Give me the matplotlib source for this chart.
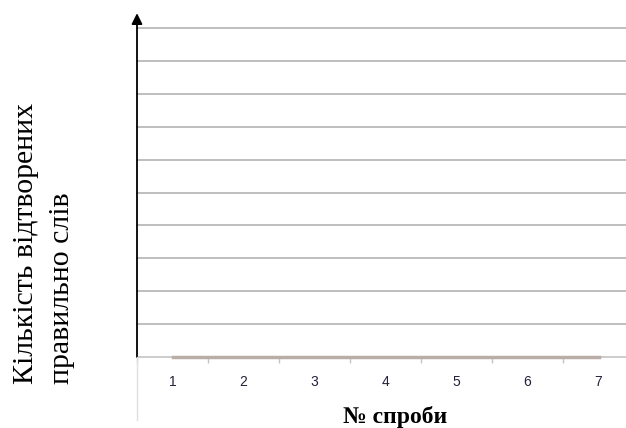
import numpy as np
import matplotlib.pyplot as plt

# data
trials = ['1', '2', '3', '4', '5', '6', '7']
words = [0, 0, 0, 0, 0, 0, 0]
y_max = 10

fig = plt.figure(figsize=(6.26, 4.28), dpi=100)
ax = fig.add_axes([137 / 626, 71 / 428, 497 / 626, 329 / 428])

x = np.arange(len(trials))
ax.set_xlim(-0.5, len(trials) - 0.5)
ax.set_ylim(0, y_max)

# horizontal grid lines
for v in range(1, y_max + 1):
    ax.axhline(v, color='#b3b3b3', lw=1.2, zorder=1, clip_on=False)

ax.plot(x, words, color='#b9aea6', lw=2.5, zorder=3, clip_on=False)

for s in ['top', 'right', 'left']:
    ax.spines[s].set_visible(False)
ax.spines['bottom'].set_color('#c4c4c4')
ax.spines['bottom'].set_linewidth(1.2)

# category boundary ticks
ax.set_xticks(np.arange(-0.5, len(trials), 1.0))
ax.set_xticklabels([])
ax.tick_params(axis='x', length=4, width=1, color='#c4c4c4', direction='out')
ax.set_yticks([])

for xi, lab in zip(x, trials):
    ax.annotate(lab, (xi, 0), xytext=(0, -25), textcoords='offset pixels',
                ha='center', va='center', fontsize=10, color='#22223a',
                family='Liberation Sans', annotation_clip=False)

# y axis with arrow
ax.annotate('', xy=(-0.5, 10.45), xytext=(-0.5, 0), xycoords='data',
            arrowprops=dict(arrowstyle='-|>', color='black', lw=1.3,
                            mutation_scale=16, shrinkA=0, shrinkB=0),
            annotation_clip=False)
fig.add_artist(plt.Line2D([137 / 626, 137 / 626], [8 / 428, 71 / 428],
                          color='#e0e0e0', lw=1))

fig.text(395 / 626, 1 - 417 / 428, '№ спроби', ha='center', va='center',
         fontsize=17, fontweight='bold', family='Liberation Serif')
fig.text(26 / 626, 1 - 384 / 428, 'Кількість відтворених', rotation=90,
         ha='center', va='bottom', fontsize=21.5, family='Liberation Serif')
fig.text(62 / 626, 1 - 384 / 428, 'правильно слів', rotation=90,
         ha='center', va='bottom', fontsize=21.5, family='Liberation Serif')

fig.savefig('out.png', dpi=100)
